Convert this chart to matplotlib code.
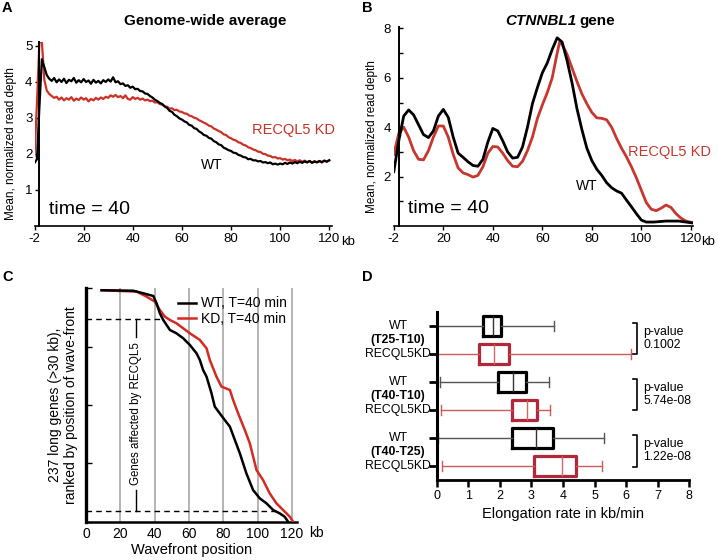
import matplotlib
matplotlib.use("Agg")
import matplotlib.pyplot as plt
import numpy as np

plt.rcParams['font.family'] = ['Liberation Sans', 'DejaVu Sans']

W, H = 718, 560
RED_A = "#cc3128"
RED_B = "#c8362e"

# ---------------- Panel A data (kb positions; first tick labelled -2) -------------
a_x = list(range(0, 121))
a_wt = [1.75, 1.85, 3.3, 4.62, 4.4, 4.18, 4.08, 4.02, 4.1, 3.98,
        4.06, 3.99, 4.08, 3.96, 4.05, 4.01, 4.1, 3.97, 4.04, 3.98,
        4.07, 3.99, 4.03, 3.94, 4.05, 3.97, 4.02, 3.95, 4.04, 3.99,
        4.06, 4.0, 4.12, 3.98, 4.01, 3.93, 3.95, 3.88, 3.9, 3.83,
        3.86, 3.79, 3.8, 3.74, 3.73, 3.67, 3.66, 3.6, 3.56, 3.5,
        3.46, 3.41, 3.38, 3.31, 3.27, 3.19, 3.16, 3.08, 3.04, 2.98,
        2.95, 2.9, 2.87, 2.8, 2.78, 2.71, 2.69, 2.62, 2.58, 2.52,
        2.5, 2.44, 2.42, 2.35, 2.32, 2.26, 2.24, 2.17, 2.14, 2.1,
        2.08, 2.03, 2.02, 1.97, 1.95, 1.91, 1.9, 1.85, 1.86, 1.82,
        1.82, 1.79, 1.8, 1.76, 1.77, 1.74, 1.76, 1.71, 1.73, 1.7,
        1.73, 1.71, 1.75, 1.72, 1.76, 1.73, 1.77, 1.74, 1.78, 1.75,
        1.79, 1.76, 1.8, 1.75, 1.79, 1.76, 1.8, 1.77, 1.81, 1.78, 1.82]
a_kd = [1.94, 3.4, 5.1, 5.1, 4.05, 3.75, 3.66, 3.6, 3.55, 3.58,
        3.5, 3.56, 3.48, 3.54, 3.5, 3.57, 3.47, 3.53, 3.49, 3.56,
        3.5, 3.54, 3.45, 3.52, 3.48, 3.55, 3.5, 3.56, 3.52, 3.58,
        3.55, 3.62, 3.58, 3.63, 3.57, 3.6, 3.54, 3.62, 3.52, 3.5,
        3.57, 3.52, 3.55, 3.5, 3.53, 3.48, 3.5, 3.46, 3.47, 3.42,
        3.43, 3.38, 3.36, 3.32, 3.3, 3.25, 3.26, 3.21, 3.22, 3.17,
        3.16, 3.12, 3.11, 3.06, 3.04, 3.0, 2.98, 2.93, 2.9, 2.86,
        2.83, 2.78, 2.76, 2.7, 2.67, 2.63, 2.6, 2.54, 2.52, 2.46,
        2.43, 2.39, 2.37, 2.32, 2.3, 2.25, 2.23, 2.18, 2.16, 2.12,
        2.1, 2.06, 2.05, 2.0, 1.99, 1.95, 1.94, 1.9, 1.91, 1.87,
        1.88, 1.84, 1.86, 1.82, 1.84, 1.8, 1.83, 1.79, 1.82, 1.78,
        1.81, 1.77, 1.8, 1.76, 1.79, 1.77, 1.8, 1.76, 1.81, 1.79, 1.82]
ab_ticks = [0, 20, 40, 60, 80, 100, 120]
ab_ticklabels = ["-2", "20", "40", "60", "80", "100", "120"]
a_yticks = [1, 2, 3, 4, 5]

# ---------------- Panel B data ----------------
b_wt_x = [0, 2, 4, 6, 8, 10, 12, 14, 16, 18, 20, 22, 24, 26, 28, 30, 32, 34, 36, 38,
          40, 42, 44, 46, 48, 50, 52, 54, 56, 58, 60, 62, 64, 66, 68, 70, 72, 74, 76, 78,
          80, 82, 84, 86, 88, 90, 92, 94, 96, 98, 100, 102, 105, 110, 115, 121]
b_wt_y = [2.2, 3.45, 4.45, 4.7, 4.5, 4.1, 3.7, 3.58, 3.85, 4.45, 4.72, 4.4, 3.6, 2.95,
          2.78, 2.6, 2.45, 2.42, 2.7, 3.4, 3.95, 3.85, 3.45, 3.0, 2.75, 2.78, 3.2, 4.0,
          4.95, 5.6, 6.2, 6.6, 7.15, 7.62, 7.45, 6.7, 5.8, 4.75, 3.9, 3.15, 2.65, 2.3,
          2.05, 1.75, 1.55, 1.42, 1.33, 1.05, 0.78, 0.5, 0.24, 0.16, 0.16, 0.2, 0.2, 0.12]
b_kd_x = [0, 2, 4, 6, 8, 10, 12, 14, 16, 18, 20, 22, 24, 26, 28, 30, 32, 34, 36, 38,
          40, 42, 44, 46, 48, 50, 52, 54, 56, 58, 60, 62, 64, 66, 67, 68, 70, 72, 74, 76,
          78, 80, 82, 84, 86, 88, 90, 92, 94, 96, 98, 100, 102, 104, 106, 108, 110, 112,
          114, 116, 118, 121]
b_kd_y = [2.9, 3.75, 4.0, 3.6, 3.05, 2.7, 2.68, 3.05, 3.6, 4.05, 4.05, 3.6, 2.9, 2.35,
          2.15, 2.08, 1.98, 2.05, 2.4, 2.95, 3.22, 3.2, 2.95, 2.65, 2.42, 2.4, 2.62, 3.05,
          3.6, 4.35, 4.9, 5.4, 6.0, 7.0, 7.45, 7.35, 6.95, 6.4, 5.85, 5.35, 4.95, 4.6,
          4.38, 4.36, 4.3, 4.0, 3.55, 3.15, 2.8, 2.4, 1.95, 1.45, 0.95, 0.68, 0.62, 0.72,
          0.85, 0.75, 0.5, 0.32, 0.2, 0.13]
b_yticks = [1, 2, 3, 4, 5, 6, 7, 8]
b_ylabels = ["", "2", "", "4", "", "6", "", "8"]

# ---------------- Panel C data (wavefront kb vs rank) ----------------
c_wt_x = [9.1, 27.5, 33.3, 39.2, 41.1, 43.0, 45.0, 46.9, 48.9, 52.7, 56.6, 60.5, 64.4,
          66.3, 68.2, 70.2, 73.1, 75.0, 77.9, 80.8, 83.8, 86.7, 89.6, 93.4, 97.3, 101.2,
          105.1, 109.0, 112.8, 115.7, 117.7]
c_wt_rank = [238, 237.5, 234.9, 232.1, 224.6, 214.3, 207.4, 202.3, 197.1, 193.7, 188.6,
             181.7, 173.1, 166.3, 156, 149.1, 132, 118.3, 111.4, 104.6, 97.7, 84, 70.3,
             49.7, 32.6, 24, 18.9, 12, 8.6, 5.1, 0]
c_kd_x = [9.1, 29.5, 35.3, 40.1, 43.0, 45.9, 48.9, 52.7, 56.6, 60.5, 66.3, 70.2, 72.1,
          76.0, 78.9, 83.8, 85.7, 88.6, 92.5, 95.4, 99.3, 103.1, 107.0, 110.9, 114.8,
          118.7, 120.6]
c_kd_rank = [238, 236.6, 231.4, 226.3, 217.7, 210.9, 207.4, 204, 198.9, 193.7, 186.9,
             178.3, 166.3, 149.1, 138.9, 135.4, 125.1, 111.4, 94.3, 80.6, 53.1, 42.9,
             29.1, 18.9, 12, 5.1, 0]
c_xticks = [0, 20, 40, 60, 80, 100, 120]
c_grid = [20, 40, 60, 80, 100, 120]
c_upper_rank, c_upper_end = 208.6, 43
c_lower_rank, c_lower_end = 11, 112

# ---------------- Panel D data ----------------
d_rows = [5.5, 4.5, 3.5, 2.5, 1.5, 0.5]
d_group = ["WT", "KD", "WT", "KD", "WT", "KD"]
d_whislo = [0.0, 0.0, 0.10, 0.13, 0.05, 0.16]
d_q1 = [1.48, 1.35, 1.93, 2.40, 2.37, 3.09]
d_med = [1.77, 1.82, 2.43, 2.87, 3.13, 3.98]
d_q3 = [2.03, 2.29, 2.83, 3.17, 3.69, 4.40]
d_whishi = [3.71, 6.14, 3.57, 3.59, 5.31, 5.25]
d_periods = ["(T25-T10)", "(T40-T10)", "(T40-T25)"]
d_pvalues = ["0.1002", "5.74e-08", "1.22e-08"]

fig = plt.figure(figsize=(W / 100, H / 100), dpi=100)


def fx(px):
    return px / W


def fy(py):
    return 1 - py / H


# ================= Panel A =================
axA = fig.add_axes([fx(34.5), fy(226), fx(331.7) - fx(34.5), fy(41.9) - fy(226)])
axA.plot(a_x, a_kd, color=RED_A, lw=1.6)
axA.plot(a_x, a_wt, color="black", lw=1.6)
axA.set_xlim(0, 121)
axA.set_ylim(0, 5.1)
for s in ["top", "right"]:
    axA.spines[s].set_visible(False)
axA.spines['left'].set_position(('data', 2))
axA.spines['left'].set_linewidth(1.4)
axA.spines['bottom'].set_linewidth(1.2)
axA.set_xticks(ab_ticks)
axA.set_xticklabels(ab_ticklabels)
axA.set_yticks(a_yticks)
axA.tick_params(axis='both', labelsize=9.5, length=3, width=1, pad=2)
axA.set_ylabel("Mean, normalized read depth", fontsize=8.5)
axA.yaxis.set_label_coords((17.5 - 34.5) / (331.7 - 34.5), 0.45)
axA.text(5.9, 0.47, "time = 40", fontsize=14, va='center', ha='left')
axA.text(72.3, 1.69, "WT", fontsize=10, va='center', ha='center')
axA.text(88.6, 2.66, "RECQL5 KD", fontsize=10.5, va='center', ha='left', color=RED_A)
fig.text(fx(341), fy(242), "kb", fontsize=9.5, va='center', ha='left')
fig.text(fx(205), fy(20.7), "Genome-wide average", fontsize=11, fontweight='bold',
         ha='center', va='center')

# ================= Panel B =================
axB = fig.add_axes([fx(393.8), fy(226), fx(693.3) - fx(393.8), fy(27.2) - fy(226)])
axB.plot(b_kd_x, b_kd_y, color=RED_B, lw=2.0)
axB.plot(b_wt_x, b_wt_y, color="black", lw=2.0)
axB.set_xlim(0, 121)
axB.set_ylim(0, 8.05)
for s in ["top", "right"]:
    axB.spines[s].set_visible(False)
axB.spines['left'].set_position(('data', 2.2))
axB.spines['left'].set_linewidth(1.4)
axB.spines['bottom'].set_linewidth(1.2)
axB.set_xticks(ab_ticks)
axB.set_xticklabels(ab_ticklabels)
axB.set_yticks(b_yticks)
axB.set_yticklabels(b_ylabels)
axB.tick_params(axis='x', labelsize=9.5, length=3, width=1, pad=2)
axB.tick_params(axis='y', labelsize=9.5, length=3, width=1, pad=6, direction='in')
axB.set_ylabel("Mean, normalized read depth", fontsize=8.5)
axB.yaxis.set_label_coords((377.5 - 393.8) / (693.3 - 393.8), 0.45)
axB.text(5.7, 0.69, "time = 40", fontsize=14, va='center', ha='left')
axB.text(78, 1.62, "WT", fontsize=10, va='center', ha='center')
axB.text(94.6, 3.0, "RECQL5 KD", fontsize=10.5, va='center', ha='left', color=RED_B)
fig.text(fx(701), fy(242), "kb", fontsize=9.5, va='center', ha='left')
fig.text(fx(576), fy(20.7), "CTNNBL1", fontsize=11, fontweight='bold', style='italic',
         ha='right', va='center')
fig.text(fx(579), fy(20.7), "gene", fontsize=11, fontweight='bold', ha='left', va='center')

# ================= Panel C =================
axC = fig.add_axes([fx(86), fy(521.7), fx(297.2) - fx(86), fy(288.3) - fy(521.7)])
axC.set_xlim(0, 123)
axC.set_ylim(0, 240)
axC.vlines(c_grid, 0, 240, color="#a8a8a8", lw=1.2, zorder=1)
axC.plot([0, c_upper_end], [c_upper_rank, c_upper_rank], color='black', lw=1.0,
         ls=(0, (4, 3)), zorder=2)
axC.plot([0, c_lower_end], [c_lower_rank, c_lower_rank], color='black', lw=1.0,
         ls=(0, (4, 3)), zorder=2)
axC.plot([29, 29], [c_lower_rank, 33], color='black', lw=1.0)
axC.plot([29, 29], [190, c_upper_rank], color='black', lw=1.0)
axC.text(29, 111, "Genes affected by RECQL5", rotation=90, fontsize=8.3,
         ha='center', va='center')
lw_, = axC.plot(c_wt_x, c_wt_rank, color='black', lw=1.8, zorder=4)
lk_, = axC.plot(c_kd_x, c_kd_rank, color="#d42a22", lw=1.8, zorder=3)
leg = axC.legend([lw_, lk_], ["WT, T=40 min", "KD, T=40 min"], loc='upper right',
                 bbox_to_anchor=(0.985, 0.995), frameon=False, fontsize=10,
                 handlelength=1.3, handletextpad=0.4, labelspacing=0.1, borderpad=0)
for s in ["top", "right"]:
    axC.spines[s].set_visible(False)
axC.spines['left'].set_linewidth(2.4)
axC.spines['bottom'].set_linewidth(1.8)
axC.set_xticks(c_xticks)
axC.set_yticks([0, 60, 120, 180, 240])
axC.set_yticklabels([])
axC.tick_params(axis='y', direction='in', length=4, width=1)
axC.tick_params(axis='x', length=0, labelsize=10, pad=4)
axC.set_xlabel("Wavefront position", fontsize=10.5, labelpad=1)
axC.set_ylabel("237 long genes (>30 kb),\nranked by position of wave-front",
               fontsize=10, labelpad=2)
fig.text(fx(309), fy(533), "kb", fontsize=10, va='center', ha='left')

# ================= Panel D =================
axD = fig.add_axes([fx(436.7), fy(480), fx(689.3) - fx(436.7), fy(311.7) - fy(480)])
for i, r in enumerate(d_rows):
    st = [dict(whislo=d_whislo[i], q1=d_q1[i], med=d_med[i], q3=d_q3[i],
               whishi=d_whishi[i], fliers=[])]
    if d_group[i] == "WT":
        bc, wc, mc = "black", "#555555", "#333333"
    else:
        bc, wc, mc = "#b2283a", "#cf5a5a", "#cf6a6a"
    kw = dict(positions=[r], widths=0.72, showfliers=False, patch_artist=False,
              boxprops=dict(color=bc, lw=2.3),
              whiskerprops=dict(color=wc, lw=1.0),
              capprops=dict(color=wc, lw=1.0),
              medianprops=dict(color=mc, lw=1.0),
              capwidths=0.36, manage_ticks=False)
    try:
        axD.bxp(st, orientation='horizontal', **kw)
    except TypeError:
        axD.bxp(st, vert=False, **kw)
axD.set_xlim(0, 8)
axD.set_ylim(0, 6)
for s in ["top", "right"]:
    axD.spines[s].set_visible(False)
axD.spines['left'].set_linewidth(2.2)
axD.spines['bottom'].set_linewidth(2.0)
axD.set_xticks(range(0, 9))
axD.set_yticks(d_rows)
axD.set_yticklabels([])
axD.tick_params(axis='y', length=6, width=2)
axD.tick_params(axis='x', length=5, width=1.8, labelsize=9, pad=2)
axD.set_xlabel("Elongation rate in kb/min", fontsize=10.5, labelpad=4)
xlab = (398 - 436.7) / (689.3 - 436.7)
for k in range(3):
    top = d_rows[2 * k]
    bot = d_rows[2 * k + 1]
    axD.text(xlab, top, "WT", transform=axD.get_yaxis_transform(), fontsize=8.8,
             ha='center', va='center')
    axD.text(xlab, (top + bot) / 2, d_periods[k], transform=axD.get_yaxis_transform(),
             fontsize=8.8, fontweight='bold', ha='center', va='center')
    axD.text(xlab, bot, "RECQL5KD", transform=axD.get_yaxis_transform(), fontsize=8.8,
             ha='center', va='center')
    bx = 6.33
    axD.plot([bx - 0.12, bx, bx, bx - 0.12], [top + 0.1, top + 0.1, bot - 0.02, bot - 0.02],
             color='black', lw=1.2, clip_on=False)
    axD.text(bx + 0.22, (top + bot) / 2 + 0.05, "p-value\n" + d_pvalues[k], fontsize=8.8,
             ha='left', va='center', linespacing=1.15)

# panel letters
for L, (px, py) in zip("ABCD", [(2, 8), (362, 8), (2, 277), (362, 277)]):
    fig.text(fx(px), fy(py), L, fontsize=10.5, fontweight='bold', ha='left', va='center')

fig.savefig("out.png", dpi=100)
